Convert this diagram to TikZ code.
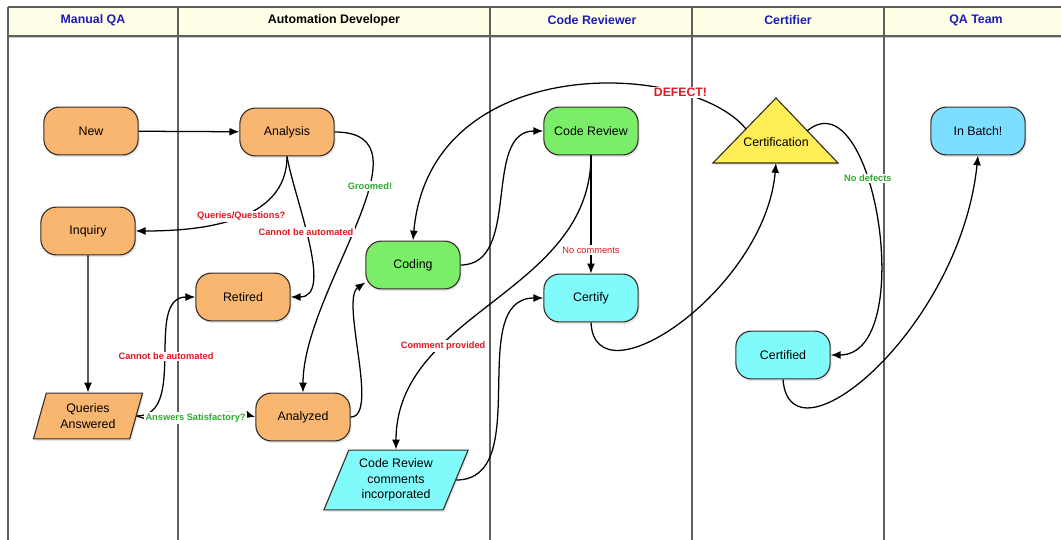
\documentclass[tikz,border=0pt]{standalone}
\usepackage{fontspec}
\setmainfont{Liberation Sans}
\usetikzlibrary{shapes.geometric,shadows,arrows.meta}

\definecolor{laneline}{RGB}{95,95,95}
\definecolor{headfill}{RGB}{255,255,232}
\definecolor{headblue}{RGB}{28,28,185}
\definecolor{orangefill}{RGB}{249,182,112}
\definecolor{greenfill}{RGB}{122,238,104}
\definecolor{cyanfill}{RGB}{128,250,250}
\definecolor{bluefill}{RGB}{125,222,255}
\definecolor{yellowfill}{RGB}{255,238,85}
\definecolor{redtext}{RGB}{228,22,34}
\definecolor{greentext}{RGB}{44,170,44}
\definecolor{edgeline}{RGB}{55,45,40}

\tikzset{
	lane/.style={draw=laneline, line width=0.9pt},
	lanehead/.style={font=\fontsize{8.8pt}{10pt}\selectfont\bfseries, text=headblue},
	softshadow/.style={drop shadow={opacity=0.2, shadow xshift=1pt, shadow yshift=-1.5pt}},
	stage/.style={draw=edgeline, line width=0.8pt, rounded corners=11pt, minimum width=67pt, minimum height=34pt, font=\fontsize{8.8pt}{10.5pt}\selectfont, softshadow},
	slanted/.style={draw=edgeline, line width=0.8pt, shape=trapezium, trapezium stretches=true, align=center, inner sep=1pt, font=\fontsize{8.8pt}{11pt}\selectfont, softshadow},
	flow/.style={line width=0.9pt, arrows={-Latex[length=7pt, width=5.6pt]}},
	redlbl/.style={fill=white, inner sep=1pt, text=redtext, font=\fontsize{6.6pt}{8pt}\selectfont\bfseries},
	greenlbl/.style={fill=white, inner sep=1pt, text=greentext, font=\fontsize{6.6pt}{8pt}\selectfont\bfseries}
}

\begin{document}
\begin{tikzpicture}[x=0.025cm, y=-0.025cm]

	\useasboundingbox (0,0) rectangle (1061,540);
	\fill [white] (0,0) rectangle (1061,540);
	\fill [headfill] (8,7) rectangle (1061,36);
	\draw [lane] (8,7) -- (1061,7);
	\draw [gray!40, line width=1.2pt] (8,37.5) -- (1061,37.5);
	\draw [lane] (8,36) -- (1061,36);
	\draw [lane] (8,7) -- (8,540);
	\draw [lane] (178,7) -- (178,540);
	\draw [lane] (490,7) -- (490,540);
	\draw [lane] (692,7) -- (692,540);
	\draw [lane] (884,7) -- (884,540);

	\node [lanehead] (manualqa) at (93,20) {Manual QA};
	\node [lanehead, text=black] (autodev) at (334,20) {Automation Developer};
	\node [lanehead] (reviewer) at (592,20) {Code Reviewer};
	\node [lanehead] (certifier) at (788,20) {Certifier};
	\node [lanehead] (qateam) at (976,20) {QA Team};

	\node [stage, fill=orangefill] (new) at (91,131) {New};
	\node [stage, fill=orangefill] (analysis) at (287,132) {Analysis};
	\node [stage, fill=orangefill] (inquiry) at (88,231) {Inquiry};
	\node [stage, fill=orangefill] (retired) at (243,297) {Retired};
	\node [slanted, fill=orangefill, trapezium left angle=72, trapezium right angle=108, minimum width=78pt, minimum height=32.6pt] (queries) at (88,416) {Queries\\Answered};
	\node [stage, fill=orangefill] (analyzed) at (303,417) {Analyzed};
	\node [stage, fill=greenfill] (coding) at (413,265) {Coding};
	\node [stage, fill=greenfill] (codereview) at (591,131) {Code Review};
	\node [stage, fill=cyanfill] (certify) at (591,298) {Certify};
	\node [slanted, fill=cyanfill, trapezium left angle=66, trapezium right angle=114, minimum width=103pt, minimum height=42.5pt] (incorporated) at (396,480) {Code Review\\comments\\incorporated};
	\filldraw [draw=edgeline, line width=0.8pt, fill=yellowfill, softshadow] (776,98) -- (838,163) -- (713,163) -- cycle;
	\node [font=\fontsize{8.8pt}{10pt}\selectfont] (certification) at (776,142) {Certification};
	\coordinate (certleft) at (746,129);
	\coordinate (certright) at (807,131);
	\coordinate (certbase) at (776,163);
	\node [stage, fill=cyanfill] (certified) at (783,355) {Certified};
	\node [stage, fill=bluefill] (inbatch) at (978,131) {In Batch!};

	\draw [flow] (new) -- (analysis);
	\draw [flow] (analysis.east) to [out=0, in=90] node [greenlbl, pos=0.37] {Groomed!} (analyzed.north);
	\draw [flow] (analysis.south) to [out=-90, in=0] node [redlbl, pos=0.47] {Queries/Questions?} (inquiry.east);
	\draw [flow] (analysis.south) to [out=-80, in=0, looseness=0.8] node [redlbl, pos=0.44] {Cannot be automated} (retired.east);
	\draw [flow] (inquiry) -- (queries);
	\draw [flow] (queries.east) to [out=0, in=180] node [redlbl, pos=0.5] {Cannot be automated} (retired.west);
	\draw [flow] (queries.east) to [out=-20, in=165] node [greenlbl] {Answers Satisfactory?} (analyzed.west);
	\draw [flow] (analyzed.east) .. controls (380,417) and (340,300) .. (coding.200);
	\draw [flow] (coding.east) to [out=0, in=180] (codereview.west);
	\draw [flow] (codereview) -- node [redlbl, font=\fontsize{6.6pt}{8pt}\selectfont, pos=0.8] {No comments} (certify);
	\draw [flow] (codereview.south) to [out=-90, in=90] node [redlbl, pos=0.68] {Comment provided} (incorporated.north);
	\draw [flow] (incorporated.east) to [out=0, in=180] (certify.west);
	\draw [flow] (certify.south) .. controls (595,405) and (765,290) .. (certbase);
	\draw [flow] (certleft) .. controls (690,60) and (430,50) .. node [redlbl, pos=0.23, font=\fontsize{8.7pt}{10pt}\selectfont\bfseries] {DEFECT!} (coding.north);
	\draw [flow] (certright) to [out=40, in=0] node [greenlbl, pos=0.38] {No defects} (certified.east);
	\draw [flow] (certified.south) .. controls (790,470) and (960,330) .. (inbatch.south);

\end{tikzpicture}
\end{document}
